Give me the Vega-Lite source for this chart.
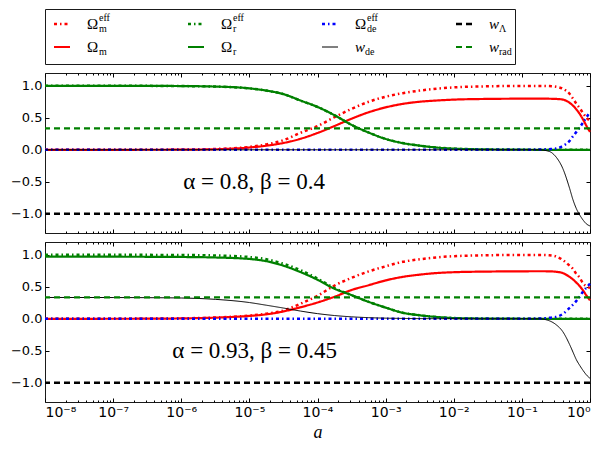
{
  "$schema": "https://vega.github.io/schema/vega-lite/v6.json",
  "padding": {"left": 9, "top": 8, "right": 5, "bottom": 5},
  "background": "white",
  "bounds": "flush",
  "spacing": 9,
  "config": {
    "view": {"stroke": "#1a1a1a", "strokeWidth": 1},
    "axis": {
      "grid": false,
      "domain": false,
      "tickColor": "#000",
      "labelColor": "#000",
      "labelFont": "DejaVu Sans",
      "labelFontSize": 13,
      "tickSize": -4,
      "labelPadding": 7,
      "title": null
    }
  },
  "datasets": {
    "legend": [
      {"col": 0, "row": 0, "series": "Om_eff", "base": "Ω", "sub": "m", "sup": "eff"},
      {"col": 1, "row": 0, "series": "Or_eff", "base": "Ω", "sub": "r", "sup": "eff"},
      {"col": 2, "row": 0, "series": "Ode_eff", "base": "Ω", "sub": "de", "sup": "eff"},
      {"col": 3, "row": 0, "series": "wL", "base": "w", "sub": "Λ", "sup": ""},
      {"col": 0, "row": 1, "series": "Om", "base": "Ω", "sub": "m", "sup": ""},
      {"col": 1, "row": 1, "series": "Or", "base": "Ω", "sub": "r", "sup": ""},
      {"col": 2, "row": 1, "series": "wde", "base": "w", "sub": "de", "sup": ""},
      {"col": 3, "row": 1, "series": "wrad", "base": "w", "sub": "rad", "sup": ""}
    ],
    "levels": [
      {"series": "wL", "v": -1},
      {"series": "wrad", "v": 0.3333}
    ],
    "notes": [
      {"p": "A", "a": 1.07e-6, "y": -0.5, "label": "α = 0.8,  β = 0.4"},
      {"p": "B", "a": 7.4e-7, "y": -0.5, "label": "α = 0.93,  β = 0.45"}
    ],
    "curves": [
      {"p": "A", "a": 1e-8, "Om_eff": 0, "Om": 0, "Or_eff": 1, "Or": 1, "Ode_eff": 0, "wde": 0},
      {"p": "A", "a": 1e-7, "Om_eff": 0.0003, "Om": 0.0002, "Or_eff": 1, "Or": 1, "Ode_eff": 0, "wde": 0},
      {"p": "A", "a": 3.162e-7, "Om_eff": 0.001, "Om": 0.0006, "Or_eff": 0.999, "Or": 0.999, "Ode_eff": 0, "wde": 0},
      {"p": "A", "a": 1e-6, "Om_eff": 0.004, "Om": 0.002, "Or_eff": 0.996, "Or": 0.996, "Ode_eff": 0, "wde": 0},
      {"p": "A", "a": 3.162e-6, "Om_eff": 0.013, "Om": 0.008, "Or_eff": 0.988, "Or": 0.988, "Ode_eff": 0, "wde": 0},
      {"p": "A", "a": 1e-5, "Om_eff": 0.045, "Om": 0.036, "Or_eff": 0.96, "Or": 0.96, "Ode_eff": 0, "wde": 0},
      {"p": "A", "a": 1.778e-5, "Om_eff": 0.085, "Om": 0.064, "Or_eff": 0.925, "Or": 0.925, "Ode_eff": 0, "wde": 0},
      {"p": "A", "a": 3.162e-5, "Om_eff": 0.15, "Om": 0.107, "Or_eff": 0.87, "Or": 0.87, "Ode_eff": 0, "wde": 0},
      {"p": "A", "a": 5.623e-5, "Om_eff": 0.265, "Om": 0.172, "Or_eff": 0.77, "Or": 0.77, "Ode_eff": 0, "wde": 0},
      {"p": "A", "a": 1e-4, "Om_eff": 0.37, "Om": 0.263, "Or_eff": 0.67, "Or": 0.67, "Ode_eff": 0, "wde": 0},
      {"p": "A", "a": 1.778e-4, "Om_eff": 0.51, "Om": 0.372, "Or_eff": 0.54, "Or": 0.54, "Ode_eff": 0, "wde": 0},
      {"p": "A", "a": 3.162e-4, "Om_eff": 0.64, "Om": 0.486, "Or_eff": 0.39, "Or": 0.39, "Ode_eff": 0, "wde": 0},
      {"p": "A", "a": 5.623e-4, "Om_eff": 0.75, "Om": 0.586, "Or_eff": 0.27, "Or": 0.27, "Ode_eff": 0, "wde": 0},
      {"p": "A", "a": 1e-3, "Om_eff": 0.83, "Om": 0.663, "Or_eff": 0.17, "Or": 0.17, "Ode_eff": 0, "wde": 0},
      {"p": "A", "a": 1.778e-3, "Om_eff": 0.885, "Om": 0.717, "Or_eff": 0.105, "Or": 0.105, "Ode_eff": 0, "wde": 0},
      {"p": "A", "a": 3.162e-3, "Om_eff": 0.925, "Om": 0.751, "Or_eff": 0.065, "Or": 0.065, "Ode_eff": 0, "wde": 0},
      {"p": "A", "a": 5.623e-3, "Om_eff": 0.955, "Om": 0.77, "Or_eff": 0.035, "Or": 0.035, "Ode_eff": 0, "wde": 0},
      {"p": "A", "a": 1e-2, "Om_eff": 0.975, "Om": 0.784, "Or_eff": 0.018, "Or": 0.018, "Ode_eff": 0, "wde": 0},
      {"p": "A", "a": 3.162e-2, "Om_eff": 0.992, "Om": 0.795, "Or_eff": 0.006, "Or": 0.006, "Ode_eff": 0, "wde": 0},
      {"p": "A", "a": 0.1, "Om_eff": 0.998, "Om": 0.799, "Or_eff": 0.002, "Or": 0.002, "Ode_eff": 0.001, "wde": 0},
      {"p": "A", "a": 0.1778, "Om_eff": 0.998, "Om": 0.8, "Or_eff": 0, "Or": 0, "Ode_eff": 0.004, "wde": 0},
      {"p": "A", "a": 0.2512, "Om_eff": 0.995, "Om": 0.798, "Or_eff": 0, "Or": 0, "Ode_eff": 0.01, "wde": -0.025},
      {"p": "A", "a": 0.3162, "Om_eff": 0.985, "Om": 0.795, "Or_eff": 0, "Or": 0, "Ode_eff": 0.02, "wde": -0.11},
      {"p": "A", "a": 0.3981, "Om_eff": 0.955, "Om": 0.785, "Or_eff": 0, "Or": 0, "Ode_eff": 0.06, "wde": -0.29},
      {"p": "A", "a": 0.5012, "Om_eff": 0.875, "Om": 0.735, "Or_eff": 0, "Or": 0, "Ode_eff": 0.14, "wde": -0.6},
      {"p": "A", "a": 0.5623, "Om_eff": 0.8, "Om": 0.69, "Or_eff": 0, "Or": 0, "Ode_eff": 0.21, "wde": -0.78},
      {"p": "A", "a": 0.631, "Om_eff": 0.72, "Om": 0.63, "Or_eff": 0, "Or": 0, "Ode_eff": 0.28, "wde": -0.92},
      {"p": "A", "a": 0.7079, "Om_eff": 0.65, "Om": 0.56, "Or_eff": 0, "Or": 0, "Ode_eff": 0.35, "wde": -1.02},
      {"p": "A", "a": 0.7943, "Om_eff": 0.57, "Om": 0.47, "Or_eff": 0, "Or": 0, "Ode_eff": 0.43, "wde": -1.1},
      {"p": "A", "a": 0.8913, "Om_eff": 0.5, "Om": 0.37, "Or_eff": 0, "Or": 0, "Ode_eff": 0.51, "wde": -1.16},
      {"p": "A", "a": 1, "Om_eff": 0.45, "Om": 0.28, "Or_eff": 0, "Or": 0, "Ode_eff": 0.59, "wde": -1.19},
      {"p": "B", "a": 1e-8, "Om_eff": 0, "Om": 0, "Or_eff": 1, "Or": 0.97, "Ode_eff": 0, "wde": 0.3333},
      {"p": "B", "a": 1e-7, "Om_eff": 0.0005, "Om": 0.0005, "Or_eff": 1, "Or": 0.97, "Ode_eff": 0, "wde": 0.332},
      {"p": "B", "a": 3.162e-7, "Om_eff": 0.002, "Om": 0.002, "Or_eff": 0.999, "Or": 0.969, "Ode_eff": 0, "wde": 0.33},
      {"p": "B", "a": 1e-6, "Om_eff": 0.007, "Om": 0.006, "Or_eff": 0.997, "Or": 0.966, "Ode_eff": 0, "wde": 0.325},
      {"p": "B", "a": 3.162e-6, "Om_eff": 0.02, "Om": 0.018, "Or_eff": 0.99, "Or": 0.958, "Ode_eff": 0, "wde": 0.304},
      {"p": "B", "a": 1e-5, "Om_eff": 0.05, "Om": 0.045, "Or_eff": 0.965, "Or": 0.935, "Ode_eff": 0, "wde": 0.254},
      {"p": "B", "a": 1.778e-5, "Om_eff": 0.08, "Om": 0.07, "Or_eff": 0.93, "Or": 0.9, "Ode_eff": 0, "wde": 0.212},
      {"p": "B", "a": 3.162e-5, "Om_eff": 0.13, "Om": 0.115, "Or_eff": 0.86, "Or": 0.83, "Ode_eff": 0, "wde": 0.168},
      {"p": "B", "a": 5.623e-5, "Om_eff": 0.235, "Om": 0.18, "Or_eff": 0.76, "Or": 0.73, "Ode_eff": 0, "wde": 0.121},
      {"p": "B", "a": 1e-4, "Om_eff": 0.36, "Om": 0.255, "Or_eff": 0.63, "Or": 0.61, "Ode_eff": 0, "wde": 0.081},
      {"p": "B", "a": 1.778e-4, "Om_eff": 0.52, "Om": 0.345, "Or_eff": 0.48, "Or": 0.47, "Ode_eff": 0, "wde": 0.051},
      {"p": "B", "a": 3.162e-4, "Om_eff": 0.64, "Om": 0.45, "Or_eff": 0.37, "Or": 0.37, "Ode_eff": 0, "wde": 0.031},
      {"p": "B", "a": 5.623e-4, "Om_eff": 0.74, "Om": 0.525, "Or_eff": 0.265, "Or": 0.265, "Ode_eff": 0, "wde": 0.018},
      {"p": "B", "a": 1e-3, "Om_eff": 0.82, "Om": 0.6, "Or_eff": 0.175, "Or": 0.175, "Ode_eff": 0, "wde": 0.01},
      {"p": "B", "a": 1.778e-3, "Om_eff": 0.89, "Om": 0.655, "Or_eff": 0.095, "Or": 0.095, "Ode_eff": 0, "wde": 0.006},
      {"p": "B", "a": 3.162e-3, "Om_eff": 0.93, "Om": 0.69, "Or_eff": 0.055, "Or": 0.055, "Ode_eff": 0, "wde": 0.003},
      {"p": "B", "a": 5.623e-3, "Om_eff": 0.96, "Om": 0.715, "Or_eff": 0.028, "Or": 0.028, "Ode_eff": 0, "wde": 0.002},
      {"p": "B", "a": 1e-2, "Om_eff": 0.978, "Om": 0.728, "Or_eff": 0.012, "Or": 0.012, "Ode_eff": 0, "wde": 0.001},
      {"p": "B", "a": 3.162e-2, "Om_eff": 0.993, "Om": 0.738, "Or_eff": 0.003, "Or": 0.003, "Ode_eff": 0, "wde": 0},
      {"p": "B", "a": 0.1, "Om_eff": 0.998, "Om": 0.742, "Or_eff": 0.001, "Or": 0.001, "Ode_eff": 0.001, "wde": 0},
      {"p": "B", "a": 0.1778, "Om_eff": 0.998, "Om": 0.743, "Or_eff": 0, "Or": 0, "Ode_eff": 0.004, "wde": 0},
      {"p": "B", "a": 0.2512, "Om_eff": 0.993, "Om": 0.742, "Or_eff": 0, "Or": 0, "Ode_eff": 0.015, "wde": -0.03},
      {"p": "B", "a": 0.3162, "Om_eff": 0.975, "Om": 0.735, "Or_eff": 0, "Or": 0, "Ode_eff": 0.03, "wde": -0.09},
      {"p": "B", "a": 0.3981, "Om_eff": 0.92, "Om": 0.715, "Or_eff": 0, "Or": 0, "Ode_eff": 0.075, "wde": -0.2},
      {"p": "B", "a": 0.5012, "Om_eff": 0.83, "Om": 0.655, "Or_eff": 0, "Or": 0, "Ode_eff": 0.17, "wde": -0.4},
      {"p": "B", "a": 0.5623, "Om_eff": 0.78, "Om": 0.615, "Or_eff": 0, "Or": 0, "Ode_eff": 0.22, "wde": -0.52},
      {"p": "B", "a": 0.631, "Om_eff": 0.7, "Om": 0.565, "Or_eff": 0, "Or": 0, "Ode_eff": 0.28, "wde": -0.64},
      {"p": "B", "a": 0.7079, "Om_eff": 0.64, "Om": 0.51, "Or_eff": 0, "Or": 0, "Ode_eff": 0.35, "wde": -0.73},
      {"p": "B", "a": 0.7943, "Om_eff": 0.55, "Om": 0.44, "Or_eff": 0, "Or": 0, "Ode_eff": 0.43, "wde": -0.81},
      {"p": "B", "a": 0.8913, "Om_eff": 0.51, "Om": 0.36, "Or_eff": 0, "Or": 0, "Ode_eff": 0.49, "wde": -0.88},
      {"p": "B", "a": 1, "Om_eff": 0.48, "Om": 0.29, "Or_eff": 0, "Or": 0, "Ode_eff": 0.55, "wde": -0.93}
    ]
  },
  "resolve": {"scale": {"x": "independent", "y": "independent"}},
  "vconcat": [
    {
      "width": 470,
      "height": 55,
      "data": {"name": "legend"},
      "encoding": {
        "x": {"field": "col", "type": "quantitative", "scale": {"domain": [-0.0672, 3.4403], "nice": false, "zero": false}, "axis": null},
        "y": {"field": "row", "type": "quantitative", "scale": {"domain": [-0.652, 1.739], "reverse": true, "nice": false, "zero": false}, "axis": null}
      },
      "layer": [
        {
          "mark": {"type": "rule", "x2Offset": 16},
          "encoding": {
            "x2": {"field": "col"},
            "color": {"field": "series", "type": "nominal", "legend": null,
              "scale": {"domain": ["Om_eff", "Om", "Or_eff", "Or", "Ode_eff", "wde", "wL", "wrad"],
                        "range": ["#ff0000", "#ff0000", "#008000", "#008000", "#0000ff", "#000000", "#000000", "#008000"]}},
            "strokeDash": {"field": "series", "type": "nominal", "legend": null,
              "scale": {"domain": ["Om_eff", "Om", "Or_eff", "Or", "Ode_eff", "wde", "wL", "wrad"],
                        "range": [[3, 3, 1.5, 3], [1, 0], [3, 3, 1.5, 3], [1, 0], [3, 3, 1.5, 3], [1, 0], [6, 4], [6, 4]]}},
            "strokeWidth": {"field": "series", "type": "nominal", "legend": null,
              "scale": {"type": "ordinal", "domain": ["Om_eff", "Om", "Or_eff", "Or", "Ode_eff", "wde", "wL", "wrad"],
                        "range": [2.5, 2.2, 2.5, 2.2, 2.5, 1, 2.4, 2.2]}}
          }
        },
        {
          "transform": [{"filter": "datum.base == 'Ω'"}],
          "mark": {"type": "text", "align": "left", "baseline": "middle", "dx": 33, "font": "Liberation Serif", "fontSize": 15, "color": "#000"},
          "encoding": {"text": {"field": "base"}}
        },
        {
          "transform": [{"filter": "datum.base == 'w'"}],
          "mark": {"type": "text", "align": "left", "baseline": "middle", "dx": 33, "font": "Liberation Serif", "fontStyle": "italic", "fontSize": 15, "color": "#000"},
          "encoding": {"text": {"field": "base"}}
        },
        {
          "transform": [{"filter": "datum.base == 'Ω'"}],
          "mark": {"type": "text", "align": "left", "baseline": "middle", "dx": 45, "dy": 5, "font": "Liberation Serif", "fontSize": 10, "color": "#000"},
          "encoding": {"text": {"field": "sub"}}
        },
        {
          "transform": [{"filter": "datum.base == 'w'"}],
          "mark": {"type": "text", "align": "left", "baseline": "middle", "dx": 43, "dy": 5, "font": "Liberation Serif", "fontSize": 10, "color": "#000"},
          "encoding": {"text": {"field": "sub"}}
        },
        {
          "transform": [{"filter": "datum.sup != ''"}],
          "mark": {"type": "text", "align": "left", "baseline": "middle", "dx": 45, "dy": -6, "font": "Liberation Serif", "fontSize": 10, "color": "#000"},
          "encoding": {"text": {"field": "sup"}}
        }
      ]
    },
    {
      "width": 545,
      "height": 160,
      "layer": [
        {
          "data": {"name": "curves"},
          "transform": [
            {"filter": "datum.p == 'A'"},
            {"fold": ["Om_eff", "Om", "Or_eff", "Or", "Ode_eff", "wde"], "as": ["series", "v"]}
          ],
          "mark": {"type": "line", "interpolate": "monotone"},
          "encoding": {
            "x": {"field": "a", "type": "quantitative", "scale": {"type": "log", "domain": [1e-8, 1], "nice": false},
              "axis": {"orient": "bottom", "values": [1e-8, 1e-7, 1e-6, 1e-5, 1e-4, 1e-3, 1e-2, 1e-1, 1], "labels": false}},
            "y": {"field": "v", "type": "quantitative", "scale": {"domain": [-1.3, 1.2], "nice": false, "zero": false},
              "axis": {"orient": "left", "values": [-1, -0.5, 0, 0.5, 1], "format": ".1f"}},
            "color": {"field": "series", "type": "nominal", "legend": null,
              "scale": {"domain": ["Om_eff", "Om", "Or_eff", "Or", "Ode_eff", "wde", "wL", "wrad"],
                        "range": ["#ff0000", "#ff0000", "#008000", "#008000", "#0000ff", "#000000", "#000000", "#008000"]}},
            "strokeDash": {"field": "series", "type": "nominal", "legend": null,
              "scale": {"domain": ["Om_eff", "Om", "Or_eff", "Or", "Ode_eff", "wde", "wL", "wrad"],
                        "range": [[3, 3, 1.5, 3], [1, 0], [3, 3, 1.5, 3], [1, 0], [3, 3, 1.5, 3], [1, 0], [6, 4], [6, 4]]}},
            "strokeWidth": {"field": "series", "type": "nominal", "legend": null,
              "scale": {"type": "ordinal", "domain": ["Om_eff", "Om", "Or_eff", "Or", "Ode_eff", "wde", "wL", "wrad"],
                        "range": [2.5, 2.2, 2.5, 2.2, 2.5, 1, 2.4, 2.2]}}
          }
        },
        {
          "data": {"name": "levels"},
          "mark": "rule",
          "encoding": {
            "y": {"field": "v", "type": "quantitative", "scale": {"domain": [-1.3, 1.2], "nice": false, "zero": false},
              "axis": {"orient": "right", "values": [-1, -0.5, 0, 0.5, 1], "labels": false}},
            "color": {"field": "series", "type": "nominal", "legend": null,
              "scale": {"domain": ["Om_eff", "Om", "Or_eff", "Or", "Ode_eff", "wde", "wL", "wrad"],
                        "range": ["#ff0000", "#ff0000", "#008000", "#008000", "#0000ff", "#000000", "#000000", "#008000"]}},
            "strokeDash": {"field": "series", "type": "nominal", "legend": null,
              "scale": {"domain": ["Om_eff", "Om", "Or_eff", "Or", "Ode_eff", "wde", "wL", "wrad"],
                        "range": [[3, 3, 1.5, 3], [1, 0], [3, 3, 1.5, 3], [1, 0], [3, 3, 1.5, 3], [1, 0], [6, 4], [6, 4]]}},
            "strokeWidth": {"field": "series", "type": "nominal", "legend": null,
              "scale": {"type": "ordinal", "domain": ["Om_eff", "Om", "Or_eff", "Or", "Ode_eff", "wde", "wL", "wrad"],
                        "range": [2.5, 2.2, 2.5, 2.2, 2.5, 1, 2.4, 2.2]}}
          }
        },
        {
          "data": {"name": "notes"},
          "transform": [{"filter": "datum.p == 'A'"}],
          "mark": {"type": "text", "align": "left", "baseline": "middle", "font": "Liberation Serif", "fontSize": 23, "color": "#000"},
          "encoding": {
            "x": {"field": "a", "type": "quantitative",
              "axis": {"orient": "bottom", "labels": false, "tickSize": -2,
                "values": [2e-8, 3e-8, 4e-8, 5e-8, 6e-8, 7e-8, 8e-8, 9e-8, 2e-7, 3e-7, 4e-7, 5e-7, 6e-7, 7e-7, 8e-7, 9e-7, 2e-6, 3e-6, 4e-6, 5e-6, 6e-6, 7e-6, 8e-6, 9e-6, 2e-5, 3e-5, 4e-5, 5e-5, 6e-5, 7e-5, 8e-5, 9e-5, 2e-4, 3e-4, 4e-4, 5e-4, 6e-4, 7e-4, 8e-4, 9e-4, 2e-3, 3e-3, 4e-3, 5e-3, 6e-3, 7e-3, 8e-3, 9e-3, 2e-2, 3e-2, 4e-2, 5e-2, 6e-2, 7e-2, 8e-2, 9e-2, 0.2, 0.3, 0.4, 0.5, 0.6, 0.7, 0.8, 0.9]}},
            "y": {"field": "y", "type": "quantitative", "axis": null},
            "text": {"field": "label"}
          }
        },
        {
          "data": {"name": "notes"},
          "transform": [{"filter": "datum.p == 'A'"}],
          "mark": {"type": "point", "opacity": 0},
          "encoding": {
            "x": {"field": "a", "type": "quantitative",
              "axis": {"orient": "top", "labels": false, "values": [1e-8, 1e-7, 1e-6, 1e-5, 1e-4, 1e-3, 1e-2, 1e-1, 1]}},
            "y": {"field": "y", "type": "quantitative", "axis": null}
          }
        },
        {
          "data": {"name": "notes"},
          "transform": [{"filter": "datum.p == 'A'"}],
          "mark": {"type": "point", "opacity": 0},
          "encoding": {
            "x": {"field": "a", "type": "quantitative",
              "axis": {"orient": "top", "labels": false, "tickSize": -2,
                "values": [2e-8, 3e-8, 4e-8, 5e-8, 6e-8, 7e-8, 8e-8, 9e-8, 2e-7, 3e-7, 4e-7, 5e-7, 6e-7, 7e-7, 8e-7, 9e-7, 2e-6, 3e-6, 4e-6, 5e-6, 6e-6, 7e-6, 8e-6, 9e-6, 2e-5, 3e-5, 4e-5, 5e-5, 6e-5, 7e-5, 8e-5, 9e-5, 2e-4, 3e-4, 4e-4, 5e-4, 6e-4, 7e-4, 8e-4, 9e-4, 2e-3, 3e-3, 4e-3, 5e-3, 6e-3, 7e-3, 8e-3, 9e-3, 2e-2, 3e-2, 4e-2, 5e-2, 6e-2, 7e-2, 8e-2, 9e-2, 0.2, 0.3, 0.4, 0.5, 0.6, 0.7, 0.8, 0.9]}},
            "y": {"field": "y", "type": "quantitative", "axis": null}
          }
        }
      ],
      "resolve": {"axis": {"x": "independent", "y": "independent"}}
    },
    {
      "width": 545,
      "height": 160,
      "layer": [
        {
          "data": {"name": "curves"},
          "transform": [
            {"filter": "datum.p == 'B'"},
            {"fold": ["Om_eff", "Om", "Or_eff", "Or", "Ode_eff", "wde"], "as": ["series", "v"]}
          ],
          "mark": {"type": "line", "interpolate": "monotone"},
          "encoding": {
            "x": {"field": "a", "type": "quantitative", "scale": {"type": "log", "domain": [1e-8, 1], "nice": false},
              "axis": {"orient": "bottom", "values": [1e-8, 1e-7, 1e-6, 1e-5, 1e-4, 1e-3, 1e-2, 1e-1, 1],
                "labelFontSize": 14,
                "labelExpr": "'10' + (round(log(datum.value) / LN10) < 0 ? '⁻' : '') + substring('⁰¹²³⁴⁵⁶⁷⁸⁹', abs(round(log(datum.value) / LN10)), abs(round(log(datum.value) / LN10)) + 1)",
                "title": "a", "titleFont": "Liberation Serif", "titleFontStyle": "italic", "titleFontWeight": "normal",
                "titleFontSize": 18, "titleColor": "#000", "titlePadding": 4}},
            "y": {"field": "v", "type": "quantitative", "scale": {"domain": [-1.3, 1.2], "nice": false, "zero": false},
              "axis": {"orient": "left", "values": [-1, -0.5, 0, 0.5, 1], "format": ".1f"}},
            "color": {"field": "series", "type": "nominal", "legend": null,
              "scale": {"domain": ["Om_eff", "Om", "Or_eff", "Or", "Ode_eff", "wde", "wL", "wrad"],
                        "range": ["#ff0000", "#ff0000", "#008000", "#008000", "#0000ff", "#000000", "#000000", "#008000"]}},
            "strokeDash": {"field": "series", "type": "nominal", "legend": null,
              "scale": {"domain": ["Om_eff", "Om", "Or_eff", "Or", "Ode_eff", "wde", "wL", "wrad"],
                        "range": [[3, 3, 1.5, 3], [1, 0], [3, 3, 1.5, 3], [1, 0], [3, 3, 1.5, 3], [1, 0], [6, 4], [6, 4]]}},
            "strokeWidth": {"field": "series", "type": "nominal", "legend": null,
              "scale": {"type": "ordinal", "domain": ["Om_eff", "Om", "Or_eff", "Or", "Ode_eff", "wde", "wL", "wrad"],
                        "range": [2.5, 2.2, 2.5, 2.2, 2.5, 1, 2.4, 2.2]}}
          }
        },
        {
          "data": {"name": "levels"},
          "mark": "rule",
          "encoding": {
            "y": {"field": "v", "type": "quantitative", "scale": {"domain": [-1.3, 1.2], "nice": false, "zero": false},
              "axis": {"orient": "right", "values": [-1, -0.5, 0, 0.5, 1], "labels": false}},
            "color": {"field": "series", "type": "nominal", "legend": null,
              "scale": {"domain": ["Om_eff", "Om", "Or_eff", "Or", "Ode_eff", "wde", "wL", "wrad"],
                        "range": ["#ff0000", "#ff0000", "#008000", "#008000", "#0000ff", "#000000", "#000000", "#008000"]}},
            "strokeDash": {"field": "series", "type": "nominal", "legend": null,
              "scale": {"domain": ["Om_eff", "Om", "Or_eff", "Or", "Ode_eff", "wde", "wL", "wrad"],
                        "range": [[3, 3, 1.5, 3], [1, 0], [3, 3, 1.5, 3], [1, 0], [3, 3, 1.5, 3], [1, 0], [6, 4], [6, 4]]}},
            "strokeWidth": {"field": "series", "type": "nominal", "legend": null,
              "scale": {"type": "ordinal", "domain": ["Om_eff", "Om", "Or_eff", "Or", "Ode_eff", "wde", "wL", "wrad"],
                        "range": [2.5, 2.2, 2.5, 2.2, 2.5, 1, 2.4, 2.2]}}
          }
        },
        {
          "data": {"name": "notes"},
          "transform": [{"filter": "datum.p == 'B'"}],
          "mark": {"type": "text", "align": "left", "baseline": "middle", "font": "Liberation Serif", "fontSize": 23, "color": "#000"},
          "encoding": {
            "x": {"field": "a", "type": "quantitative",
              "axis": {"orient": "bottom", "labels": false, "tickSize": -2,
                "values": [2e-8, 3e-8, 4e-8, 5e-8, 6e-8, 7e-8, 8e-8, 9e-8, 2e-7, 3e-7, 4e-7, 5e-7, 6e-7, 7e-7, 8e-7, 9e-7, 2e-6, 3e-6, 4e-6, 5e-6, 6e-6, 7e-6, 8e-6, 9e-6, 2e-5, 3e-5, 4e-5, 5e-5, 6e-5, 7e-5, 8e-5, 9e-5, 2e-4, 3e-4, 4e-4, 5e-4, 6e-4, 7e-4, 8e-4, 9e-4, 2e-3, 3e-3, 4e-3, 5e-3, 6e-3, 7e-3, 8e-3, 9e-3, 2e-2, 3e-2, 4e-2, 5e-2, 6e-2, 7e-2, 8e-2, 9e-2, 0.2, 0.3, 0.4, 0.5, 0.6, 0.7, 0.8, 0.9]}},
            "y": {"field": "y", "type": "quantitative", "axis": null},
            "text": {"field": "label"}
          }
        },
        {
          "data": {"name": "notes"},
          "transform": [{"filter": "datum.p == 'B'"}],
          "mark": {"type": "point", "opacity": 0},
          "encoding": {
            "x": {"field": "a", "type": "quantitative",
              "axis": {"orient": "top", "labels": false, "values": [1e-8, 1e-7, 1e-6, 1e-5, 1e-4, 1e-3, 1e-2, 1e-1, 1]}},
            "y": {"field": "y", "type": "quantitative", "axis": null}
          }
        },
        {
          "data": {"name": "notes"},
          "transform": [{"filter": "datum.p == 'B'"}],
          "mark": {"type": "point", "opacity": 0},
          "encoding": {
            "x": {"field": "a", "type": "quantitative",
              "axis": {"orient": "top", "labels": false, "tickSize": -2,
                "values": [2e-8, 3e-8, 4e-8, 5e-8, 6e-8, 7e-8, 8e-8, 9e-8, 2e-7, 3e-7, 4e-7, 5e-7, 6e-7, 7e-7, 8e-7, 9e-7, 2e-6, 3e-6, 4e-6, 5e-6, 6e-6, 7e-6, 8e-6, 9e-6, 2e-5, 3e-5, 4e-5, 5e-5, 6e-5, 7e-5, 8e-5, 9e-5, 2e-4, 3e-4, 4e-4, 5e-4, 6e-4, 7e-4, 8e-4, 9e-4, 2e-3, 3e-3, 4e-3, 5e-3, 6e-3, 7e-3, 8e-3, 9e-3, 2e-2, 3e-2, 4e-2, 5e-2, 6e-2, 7e-2, 8e-2, 9e-2, 0.2, 0.3, 0.4, 0.5, 0.6, 0.7, 0.8, 0.9]}},
            "y": {"field": "y", "type": "quantitative", "axis": null}
          }
        }
      ],
      "resolve": {"axis": {"x": "independent", "y": "independent"}}
    }
  ]
}
